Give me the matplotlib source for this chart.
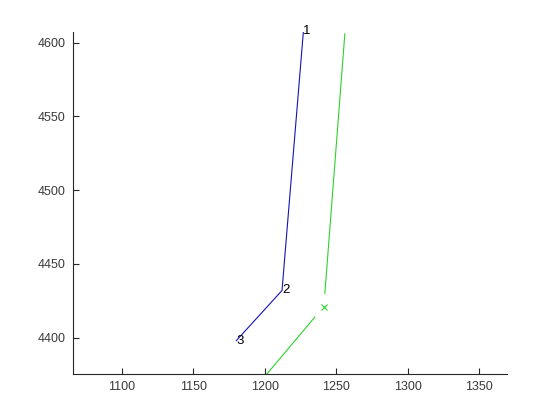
import matplotlib
matplotlib.use("Agg")
import matplotlib.pyplot as plt

plt.rcParams['font.family'] = ['Liberation Sans', 'DejaVu Sans']

# Blue path (numbered points)
blue_x = [1227, 1212, 1180]
blue_y = [4608, 4432, 4398]
blue_labels = ['1', '2', '3']

# Green path: upper segment, marker, lower segment
green_upper_x = [1256, 1242]
green_upper_y = [4606, 4430]
green_marker_x = [1241.5]
green_marker_y = [4420.5]
green_lower_x = [1235, 1195]
green_lower_y = [4414, 4368]

xticks = [1100, 1150, 1200, 1250, 1300, 1350]
yticks = [4400, 4450, 4500, 4550, 4600]

fig = plt.figure(figsize=(5.6, 4.2), dpi=100)
ax = fig.add_axes([0.13, 0.11, 0.775, 0.815])

blue = '#1414b4'
green = '#2ed22e'
ax.plot(blue_x, blue_y, color=blue, lw=0.8)
for x, y, t in zip(blue_x, blue_y, blue_labels):
    ax.text(x, y, t, fontsize=9.5, ha='left', va='center', color='black')
ax.plot(green_upper_x, green_upper_y, color=green, lw=0.8)
ax.plot(green_marker_x, green_marker_y, 'x', color=green, ms=5, mew=0.8)
ax.plot(green_lower_x, green_lower_y, color=green, lw=0.8)

ax.set_xlim(1065.5, 1369.4)
ax.set_ylim(4375.5, 4607.6)
ax.set_xticks(xticks)
ax.set_yticks(yticks)

for s in ['top', 'right']:
    ax.spines[s].set_visible(False)
for s in ['left', 'bottom']:
    ax.spines[s].set_color('#262626')
    ax.spines[s].set_linewidth(0.8)
ax.tick_params(direction='in', length=4, width=0.8, colors='#262626', labelsize=9, pad=5)
for lab in ax.get_xticklabels() + ax.get_yticklabels():
    lab.set_color('#3a3a3a')

fig.savefig('out.png', dpi=100)
